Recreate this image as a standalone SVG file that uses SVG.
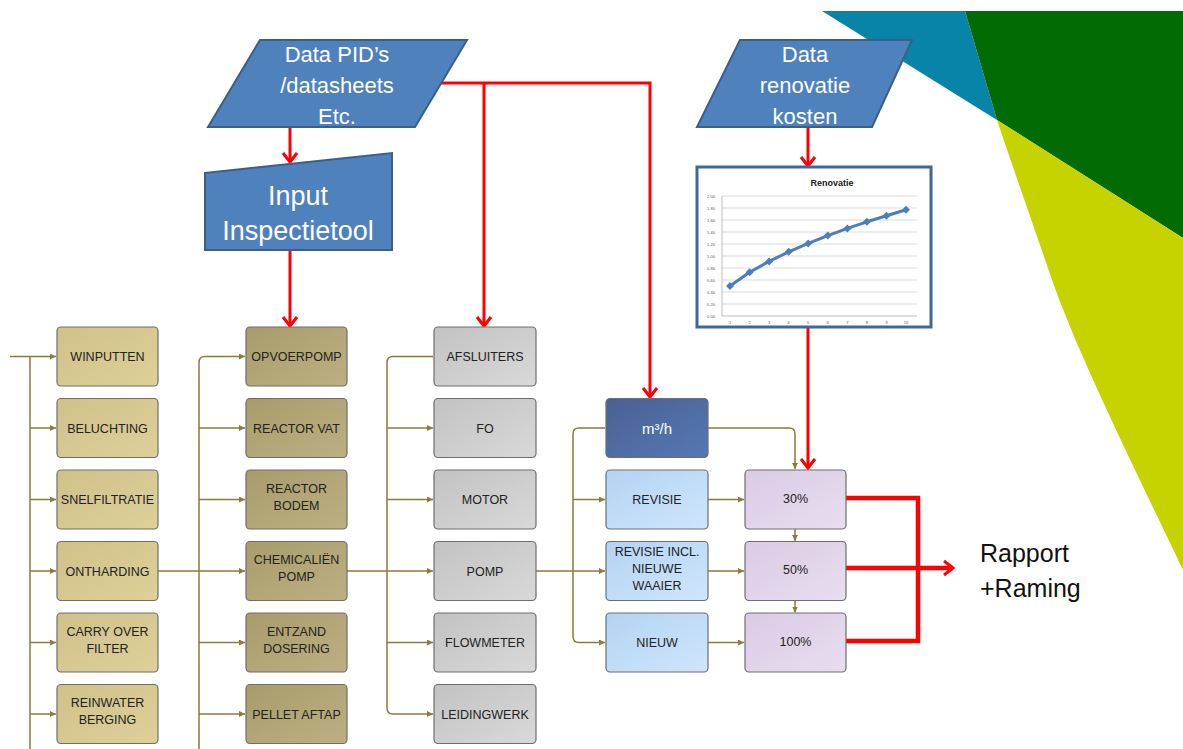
<svg xmlns="http://www.w3.org/2000/svg" width="1183" height="749" viewBox="0 0 1183 749">
<defs>
<style>
.para{fill:#4f81bd;stroke:#3a5f8b;stroke-width:2}
.ptxt{font-family:"Liberation Sans",Arial,sans-serif;font-size:22px;fill:#ffffff;text-anchor:middle}
.box{stroke:#6e6e6e;stroke-width:1.2}
.btxt{font-family:"Liberation Sans",Arial,sans-serif;font-size:12.5px;fill:#222222;text-anchor:middle}
.olive{fill:none;stroke:#8b7b3e;stroke-width:1.5}
.red{fill:none;stroke:#ff0000;stroke-width:3}
.redT{fill:none;stroke:#ff0000;stroke-width:4.5}
.grid{stroke:#c4c4c4;stroke-width:0.6}
.ax{font-family:"Liberation Sans",Arial,sans-serif;font-size:4px;fill:#555555;text-anchor:middle}
</style>
<linearGradient id="g1" x1="0" y1="0" x2="1" y2="1"><stop offset="0" stop-color="#d0c189"/><stop offset="1" stop-color="#ddd099"/></linearGradient>
<linearGradient id="g2" x1="0" y1="0" x2="1" y2="1"><stop offset="0" stop-color="#a99c6b"/><stop offset="1" stop-color="#bcb082"/></linearGradient>
<linearGradient id="g3" x1="0" y1="0" x2="1" y2="1"><stop offset="0" stop-color="#c2c2c2"/><stop offset="1" stop-color="#d9d9d9"/></linearGradient>
<linearGradient id="g4" x1="0" y1="0" x2="1" y2="1"><stop offset="0" stop-color="#4a6192"/><stop offset="1" stop-color="#5578b6"/></linearGradient>
<linearGradient id="g5" x1="0" y1="0" x2="1" y2="1"><stop offset="0" stop-color="#b3d3f3"/><stop offset="1" stop-color="#cfe6fb"/></linearGradient>
<linearGradient id="g6" x1="0" y1="0" x2="1" y2="1"><stop offset="0" stop-color="#dacbe4"/><stop offset="1" stop-color="#e8def0"/></linearGradient>
<marker id="ra" viewBox="0 0 12 16" refX="10" refY="8" markerWidth="12" markerHeight="16" markerUnits="userSpaceOnUse" orient="auto" overflow="visible">
<path d="M1,1 L10,8 L1,15" fill="none" stroke="#ff0000" stroke-width="3"/>
</marker>
<marker id="oa" viewBox="0 0 6 6" refX="6" refY="3" markerWidth="6" markerHeight="6" markerUnits="userSpaceOnUse" orient="auto">
<path d="M0,0 L6,3 L0,6 z" fill="#8b7b3e"/>
</marker>
</defs>
<rect width="1183" height="749" fill="#ffffff"/>
<g id="background">
<polygon points="822,11 965,11 997,120" fill="#0884a8"/>
<polygon points="965,11 1183,11 1183,238 997,120" fill="#026b02"/>
<path d="M997,120 L1183,238 L1183,570 C1150,500 1080,360 1052,280 C1035,230 1012,165 997,120 z" fill="#c6d300"/>
</g>
<g id="connectors">
<path class="red" d="M290,127 V162" marker-end="url(#ra)"/>
<path class="red" d="M290,250 V326" marker-end="url(#ra)"/>
<path class="red" d="M440,83 H650 V397" marker-end="url(#ra)"/>
<path class="red" d="M484,83 V326" marker-end="url(#ra)"/>
<path class="red" d="M808,127 V166" marker-end="url(#ra)"/>
<path class="red" d="M808,327 V468" marker-end="url(#ra)"/>
<path class="redT" d="M846,498 H918 V641 H846"/>
<path class="redT" d="M846,568 H953" marker-end="url(#ra)"/>
<path class="olive" d="M10,356.5 H56" marker-end="url(#oa)"/>
<path class="olive" d="M30,356.5 V749"/>
<path class="olive" d="M30,428 H56" marker-end="url(#oa)"/>
<path class="olive" d="M30,499.5 H56" marker-end="url(#oa)"/>
<path class="olive" d="M30,571 H56" marker-end="url(#oa)"/>
<path class="olive" d="M30,642.5 H56" marker-end="url(#oa)"/>
<path class="olive" d="M30,714 H56" marker-end="url(#oa)"/>
<path class="olive" d="M199,749 V362.5 Q199,356.5 205,356.5 H245" marker-end="url(#oa)"/>
<path class="olive" d="M199,428 H245" marker-end="url(#oa)"/>
<path class="olive" d="M199,499.5 H245" marker-end="url(#oa)"/>
<path class="olive" d="M158,571 H245" marker-end="url(#oa)"/>
<path class="olive" d="M199,642.5 H245" marker-end="url(#oa)"/>
<path class="olive" d="M199,714 H245" marker-end="url(#oa)"/>
<path class="olive" d="M433,356.5 H393 Q387,356.5 387,362.5 V708 Q387,714 393,714 H433" marker-end="url(#oa)"/>
<path class="olive" d="M387,428 H433" marker-end="url(#oa)"/>
<path class="olive" d="M387,499.5 H433" marker-end="url(#oa)"/>
<path class="olive" d="M347,571 H433" marker-end="url(#oa)"/>
<path class="olive" d="M387,642.5 H433" marker-end="url(#oa)"/>
<path class="olive" d="M605,428 H579 Q573,428 573,434 V636.5 Q573,642.5 579,642.5 H605" marker-end="url(#oa)"/>
<path class="olive" d="M573,499.5 H605" marker-end="url(#oa)"/>
<path class="olive" d="M536,571 H605" marker-end="url(#oa)"/>
<path class="olive" d="M708,428 H789 Q795,428 795,434 V469" marker-end="url(#oa)"/>
<path class="olive" d="M708,499.5 H744" marker-end="url(#oa)"/>
<path class="olive" d="M708,571 H744" marker-end="url(#oa)"/>
<path class="olive" d="M708,642.5 H744" marker-end="url(#oa)"/>
<path class="olive" d="M795,529 V541" marker-end="url(#oa)"/>
<path class="olive" d="M795,600.5 V612.5" marker-end="url(#oa)"/>
</g>
<g id="data-pid">
<polygon class="para" points="260,40 467,40 415,127 208,127"/>
<text class="ptxt" x="337" y="62">Data PID’s</text>
<text class="ptxt" x="337" y="93">/datasheets</text>
<text class="ptxt" x="337" y="124">Etc.</text>
</g>
<g id="input-inspectietool">
<polygon class="para" points="205,173 392,153 392,250 205,250"/>
<text class="ptxt" style="font-size:27px" x="298" y="205">Input</text>
<text class="ptxt" style="font-size:27px" x="298" y="240">Inspectietool</text>
</g>
<g id="data-renovatie">
<polygon class="para" points="740,40 912,40 872,127 697,127"/>
<text class="ptxt" x="805" y="62">Data</text>
<text class="ptxt" x="805" y="93">renovatie</text>
<text class="ptxt" x="805" y="124">kosten</text>
</g>
<g id="chart-renovatie">
<rect x="697" y="167" width="234" height="160" fill="#ffffff" stroke="#3f679c" stroke-width="3"/>
<text x="832" y="186" font-family="'Liberation Sans',Arial,sans-serif" font-size="9" font-weight="bold" fill="#222222" text-anchor="middle">Renovatie</text>
<g class="grid">
<line x1="722" y1="196" x2="917" y2="196"/><line x1="722" y1="208" x2="917" y2="208"/><line x1="722" y1="220" x2="917" y2="220"/><line x1="722" y1="232" x2="917" y2="232"/><line x1="722" y1="244" x2="917" y2="244"/><line x1="722" y1="256" x2="917" y2="256"/><line x1="722" y1="268" x2="917" y2="268"/><line x1="722" y1="280" x2="917" y2="280"/><line x1="722" y1="292" x2="917" y2="292"/><line x1="722" y1="304" x2="917" y2="304"/>
</g>
<line x1="722" y1="196" x2="722" y2="316" stroke="#999999" stroke-width="0.6"/>
<line x1="722" y1="316" x2="917" y2="316" stroke="#999999" stroke-width="0.6"/>
<g class="ax">
<text x="711" y="197.5">2,00</text><text x="711" y="209.5">1,80</text><text x="711" y="221.5">1,60</text><text x="711" y="233.5">1,40</text><text x="711" y="245.5">1,20</text><text x="711" y="257.5">1,00</text><text x="711" y="269.5">0,80</text><text x="711" y="281.5">0,60</text><text x="711" y="293.5">0,40</text><text x="711" y="305.5">0,20</text><text x="711" y="317.5">0,00</text>
<text x="730" y="324">1</text><text x="749.6" y="324">2</text><text x="769.1" y="324">3</text><text x="788.7" y="324">4</text><text x="808.2" y="324">5</text><text x="827.8" y="324">6</text><text x="847.4" y="324">7</text><text x="866.9" y="324">8</text><text x="886.5" y="324">9</text><text x="906" y="324">10</text>
</g>
<polyline points="730,286 749.6,272.2 769.1,261.4 788.7,251.8 808.2,243.4 827.8,235.6 847.4,228.4 866.9,221.8 886.5,215.8 906,209.8" fill="none" stroke="#4a7ebf" stroke-width="3" stroke-linejoin="round"/>
<g fill="#4a7ebf">
<path d="M730,282 l4,4 l-4,4 l-4,-4z"/><path d="M749.6,268.2 l4,4 l-4,4 l-4,-4z"/><path d="M769.1,257.4 l4,4 l-4,4 l-4,-4z"/><path d="M788.7,247.8 l4,4 l-4,4 l-4,-4z"/><path d="M808.2,239.4 l4,4 l-4,4 l-4,-4z"/><path d="M827.8,231.6 l4,4 l-4,4 l-4,-4z"/><path d="M847.4,224.4 l4,4 l-4,4 l-4,-4z"/><path d="M866.9,217.8 l4,4 l-4,4 l-4,-4z"/><path d="M886.5,211.8 l4,4 l-4,4 l-4,-4z"/><path d="M906,205.8 l4,4 l-4,4 l-4,-4z"/>
</g>
</g>
<g id="winputten"><rect class="box" x="57" y="327" width="101" height="59" rx="4" fill="url(#g1)"/><text class="btxt" x="107.5" y="361">WINPUTTEN</text></g>
<g id="beluchting"><rect class="box" x="57" y="398.5" width="101" height="59" rx="4" fill="url(#g1)"/><text class="btxt" x="107.5" y="432.5">BELUCHTING</text></g>
<g id="snelfiltratie"><rect class="box" x="57" y="470" width="101" height="59" rx="4" fill="url(#g1)"/><text class="btxt" x="107.5" y="504">SNELFILTRATIE</text></g>
<g id="ontharding"><rect class="box" x="57" y="541.5" width="101" height="59" rx="4" fill="url(#g1)"/><text class="btxt" x="107.5" y="575.5">ONTHARDING</text></g>
<g id="carry-over-filter"><rect class="box" x="57" y="613" width="101" height="59" rx="4" fill="url(#g1)"/><text class="btxt" x="107.5" y="635.5">CARRY OVER</text><text class="btxt" x="107.5" y="652.5">FILTER</text></g>
<g id="reinwater-berging"><rect class="box" x="57" y="684.5" width="101" height="59" rx="4" fill="url(#g1)"/><text class="btxt" x="107.5" y="707">REINWATER</text><text class="btxt" x="107.5" y="724">BERGING</text></g>
<g id="opvoerpomp"><rect class="box" x="246" y="327" width="101" height="59" rx="4" fill="url(#g2)"/><text class="btxt" x="296.5" y="361">OPVOERPOMP</text></g>
<g id="reactor-vat"><rect class="box" x="246" y="398.5" width="101" height="59" rx="4" fill="url(#g2)"/><text class="btxt" x="296.5" y="432.5">REACTOR VAT</text></g>
<g id="reactor-bodem"><rect class="box" x="246" y="470" width="101" height="59" rx="4" fill="url(#g2)"/><text class="btxt" x="296.5" y="492.5">REACTOR</text><text class="btxt" x="296.5" y="509.5">BODEM</text></g>
<g id="chemicalien-pomp"><rect class="box" x="246" y="541.5" width="101" height="59" rx="4" fill="url(#g2)"/><text class="btxt" x="296.5" y="564">CHEMICALIËN</text><text class="btxt" x="296.5" y="581">POMP</text></g>
<g id="entzand-dosering"><rect class="box" x="246" y="613" width="101" height="59" rx="4" fill="url(#g2)"/><text class="btxt" x="296.5" y="635.5">ENTZAND</text><text class="btxt" x="296.5" y="652.5">DOSERING</text></g>
<g id="pellet-aftap"><rect class="box" x="246" y="684.5" width="101" height="59" rx="4" fill="url(#g2)"/><text class="btxt" x="296.5" y="718.5">PELLET AFTAP</text></g>
<g id="afsluiters"><rect class="box" x="434" y="327" width="102" height="59" rx="4" fill="url(#g3)"/><text class="btxt" x="485" y="361">AFSLUITERS</text></g>
<g id="fo"><rect class="box" x="434" y="398.5" width="102" height="59" rx="4" fill="url(#g3)"/><text class="btxt" x="485" y="432.5">FO</text></g>
<g id="motor"><rect class="box" x="434" y="470" width="102" height="59" rx="4" fill="url(#g3)"/><text class="btxt" x="485" y="504">MOTOR</text></g>
<g id="pomp"><rect class="box" x="434" y="541.5" width="102" height="59" rx="4" fill="url(#g3)"/><text class="btxt" x="485" y="575.5">POMP</text></g>
<g id="flowmeter"><rect class="box" x="434" y="613" width="102" height="59" rx="4" fill="url(#g3)"/><text class="btxt" x="485" y="647">FLOWMETER</text></g>
<g id="leidingwerk"><rect class="box" x="434" y="684.5" width="102" height="59" rx="4" fill="url(#g3)"/><text class="btxt" x="485" y="718.5">LEIDINGWERK</text></g>
<g id="m3h"><rect class="box" x="606" y="398.5" width="102" height="59" rx="4" fill="url(#g4)"/><text class="btxt" style="fill:#ffffff;font-size:15px" x="657" y="433.5">m³/h</text></g>
<g id="revisie"><rect class="box" x="606" y="470" width="102" height="59" rx="4" fill="url(#g5)"/><text class="btxt" x="657" y="504">REVISIE</text></g>
<g id="revisie-incl"><rect class="box" x="606" y="541.5" width="102" height="59" rx="4" fill="url(#g5)"/><text class="btxt" x="657" y="555.5">REVISIE INCL.</text><text class="btxt" x="657" y="572.5">NIEUWE</text><text class="btxt" x="657" y="589.5">WAAIER</text></g>
<g id="nieuw"><rect class="box" x="606" y="613" width="102" height="59" rx="4" fill="url(#g5)"/><text class="btxt" x="657" y="647">NIEUW</text></g>
<g id="p30"><rect class="box" x="745" y="470" width="101" height="59" rx="4" fill="url(#g6)"/><text class="btxt" x="795.5" y="503">30%</text></g>
<g id="p50"><rect class="box" x="745" y="541.5" width="101" height="59" rx="4" fill="url(#g6)"/><text class="btxt" x="795.5" y="574">50%</text></g>
<g id="p100"><rect class="box" x="745" y="613" width="101" height="59" rx="4" fill="url(#g6)"/><text class="btxt" x="795.5" y="645.5">100%</text></g>
<g id="rapport">
<text x="980" y="562" font-family="'Liberation Sans',Arial,sans-serif" font-size="25" fill="#111111">Rapport</text>
<text x="980" y="597" font-family="'Liberation Sans',Arial,sans-serif" font-size="25" fill="#111111">+Raming</text>
</g>
</svg>
